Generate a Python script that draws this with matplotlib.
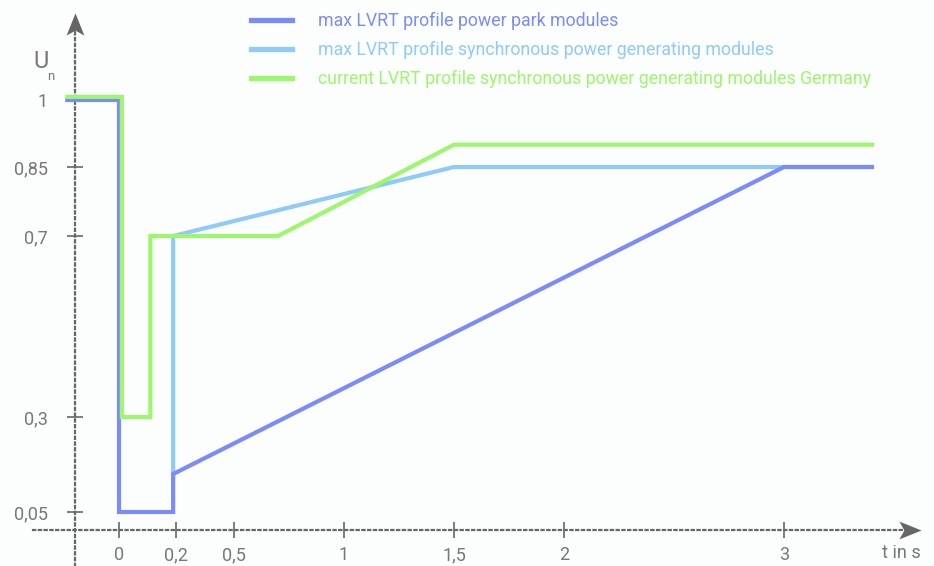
import numpy as np
import matplotlib
matplotlib.use("Agg")
import matplotlib.pyplot as plt
from matplotlib.lines import Line2D

plt.rcParams['font.family'] = ['Roboto', 'DejaVu Sans']

# data (t in s, U in p.u.)
t_ppm = [-0.23, 0, 0, 0.19, 0.19, 3, 3.4]
u_ppm = [1, 1, 0.05, 0.05, 0.15, 0.85, 0.85]

t_spgm = [0.19, 0.19, 1.5, 3.4]
u_spgm = [0.15, 0.7, 0.85, 0.85]

t_de = [-0.23, 0.01, 0.01, 0.11, 0.11, 0.7, 1.5, 3.4]
u_de = [1.007, 1.007, 0.3, 0.3, 0.7, 0.7, 0.9, 0.9]

x_ticks = [0, 0.2, 0.5, 1, 1.5, 2, 3]
x_labels = ['0', '0,2', '0,5', '1', '1,5', '2', '3']
y_ticks = [0.05, 0.3, 0.7, 0.85, 1]
y_labels = ['0,05', '0,3', '0,7', '0,85', '1']

labels = ['max LVRT profile power park modules',
          'max LVRT profile synchronous power generating modules',
          'current LVRT profile synchronous power generating modules Germany']
colors = ['#7a8cf7', '#8fcaf9', '#9ef56e']

# piecewise scales (the original drawing is not quite linear)
xk = [-2, 0, 0.2, 0.5, 1, 3, 6]
xp = [-450, 0, 57, 115, 225, 665, 1325]
yk = [-1, 0.05, 0.3, 0.7, 0.85, 1, 3]
yp = [-345, 54, 149, 330, 399, 466, 1360]


def fx(v):
    return np.interp(v, xk, xp)


def fx_inv(v):
    return np.interp(v, xp, xk)


def fy(v):
    return np.interp(v, yk, yp)


def fy_inv(v):
    return np.interp(v, yp, yk)


fig = plt.figure(figsize=(9.34, 5.66), dpi=100)
fig.patch.set_facecolor('#fcfdfd')
ax = fig.add_axes([0, 0, 1, 1])
ax.set_facecolor('#fcfdfd')
ax.set_xscale('function', functions=(fx, fx_inv))
ax.set_yscale('function', functions=(fy, fy_inv))
ax.set_xlim(fx_inv(-119), fx_inv(815))
ax.set_ylim(fy_inv(0), fy_inv(566))

ax.plot(t_spgm, u_spgm, color=colors[1], lw=3, solid_joinstyle='miter', zorder=3)
ax.plot(t_ppm, u_ppm, color=colors[0], lw=3, solid_joinstyle='miter', zorder=4)
ax.plot(t_de, u_de, color=colors[2], lw=3, solid_joinstyle='miter', zorder=5)

# axes with dotted lines and arrow heads
ax_col = '#666666'
y0 = fy_inv(36)
x0 = fx_inv(-44)
for side in ['top', 'right']:
    ax.spines[side].set_visible(False)
ax.spines['left'].set_position(('data', x0))
ax.spines['bottom'].set_position(('data', y0))
for side in ['left', 'bottom']:
    ax.spines[side].set_linestyle((0, (1, 1.6)))
    ax.spines[side].set_linewidth(1.6)
    ax.spines[side].set_color(ax_col)
ax.spines['left'].set_bounds(fy_inv(0), fy_inv(540))
ax.spines['bottom'].set_bounds(fx_inv(-86), fx_inv(790))

up = [(0, 1), (-0.8, -1), (0, -0.55), (0.8, -1), (0, 1)]
right = [(1, 0), (-1, 0.8), (-0.55, 0), (-1, -0.8), (1, 0)]
ax.plot([x0], [fy_inv(542)], marker=up, ms=16, color=ax_col, mew=0, clip_on=False)
ax.plot([fx_inv(791)], [y0], marker=right, ms=16, color=ax_col, mew=0, clip_on=False)

ax.set_xticks(x_ticks, x_labels)
ax.set_yticks(y_ticks, y_labels)
ax.minorticks_off()
ax.tick_params(axis='both', direction='inout', length=11, width=1.2, color=ax_col,
               labelcolor='#777777', labelsize=13)
ax.tick_params(axis='x', pad=6)
ax.tick_params(axis='y', pad=14)

ax.text(33 / 934, 1 - 62 / 566, 'U', transform=ax.transAxes, fontsize=17,
        color='#777777', va='center', ha='left')
ax.text(47 / 934, 1 - 76 / 566, 'n', transform=ax.transAxes, fontsize=9.5,
        color='#777777', va='center', ha='left')
ax.text(921 / 934, 1 - 553 / 566, 't in s', transform=ax.transAxes, fontsize=13,
        color='#777777', va='center', ha='right')

handles = [Line2D([], [], color=c, lw=3.8) for c in colors]
ax.legend(handles, labels, loc='upper left', bbox_to_anchor=(251 / 934, 1 - 12 / 566),
          frameon=False, labelcolor='linecolor', prop={'size': 12.8},
          handlelength=2.3, handletextpad=1.45, labelspacing=0.61,
          borderpad=0, borderaxespad=0)

fig.savefig('out.png', dpi=100, facecolor=fig.get_facecolor())
